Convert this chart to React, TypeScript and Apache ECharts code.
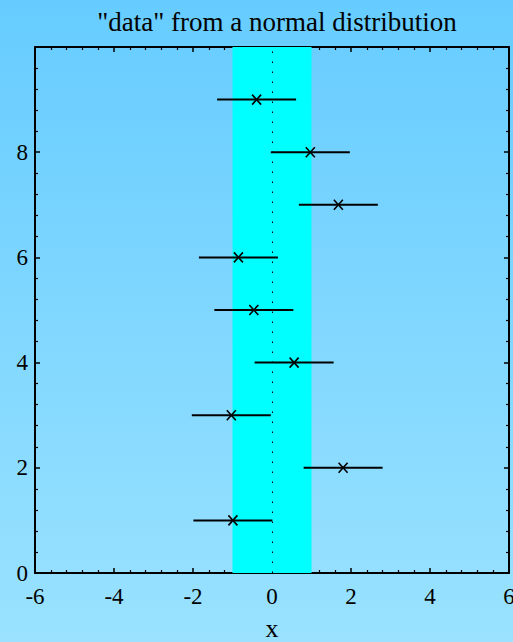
import React, { useEffect, useRef } from "react";
import * as echarts from "echarts";

const titleText = '"data" from a normal distribution';
const xAxisName = "x";
const yValues = [1, 2, 3, 4, 5, 6, 7, 8, 9];
const xValues = [-0.99, 1.8, -1.03, 0.56, -0.46, -0.85, 1.68, 0.97, -0.39];
const xErrors = [1, 1, 1, 1, 1, 1, 1, 1, 1];
const bandRange = [-1, 1];
const refLineX = 0;
const xRange = [-6, 6];
const yRange = [0, 10];

const FONT = "Liberation Serif";

export default function App() {
  const ref = useRef<HTMLDivElement>(null);
  useEffect(() => {
    const chart = echarts.init(ref.current!, null, { renderer: "svg" });
    const points = xValues.map((x, i) => [x, yValues[i], xErrors[i]]);
    const axisCommon = {
      axisLine: { show: true, onZero: false, lineStyle: { color: "#000", width: 2 } },
      axisTick: { show: true, inside: true, length: 5, lineStyle: { color: "#000", width: 1.5 } },
      minorTick: { show: true, splitNumber: 5, length: 3, lineStyle: { color: "#000", width: 1.2 } },
      splitLine: { show: false },
      minorSplitLine: { show: false },
    };
    chart.setOption({
      animation: false,
      backgroundColor: new echarts.graphic.LinearGradient(0, 0, 0, 1, [
        { offset: 0, color: "#66ccff" },
        { offset: 1, color: "#9ae2ff" },
      ]),
      title: {
        text: titleText,
        left: 272,
        textAlign: "center",
        top: 3,
        textStyle: { fontFamily: FONT, fontSize: 27, fontWeight: "normal", color: "#000" },
      },
      grid: { left: 35, right: 4, top: 47, bottom: 69, outerBoundsMode: "none", containLabel: false },
      xAxis: [
        {
          type: "value",
          min: xRange[0],
          max: xRange[1],
          interval: 2,
          position: "bottom",
          name: xAxisName,
          nameLocation: "middle",
          nameGap: 42,
          nameTextStyle: { fontFamily: FONT, fontSize: 26, color: "#000" },
          axisLabel: { fontFamily: FONT, fontSize: 23, color: "#000", margin: 12 },
          ...axisCommon,
        },
        {
          type: "value",
          min: xRange[0],
          max: xRange[1],
          interval: 2,
          position: "top",
          axisLabel: { show: false },
          ...axisCommon,
        },
      ],
      yAxis: [
        {
          type: "value",
          min: yRange[0],
          max: yRange[1],
          interval: 2,
          position: "left",
          axisLabel: { fontFamily: FONT, fontSize: 23, color: "#000", margin: 7, showMaxLabel: false },
          ...axisCommon,
        },
        {
          type: "value",
          min: yRange[0],
          max: yRange[1],
          interval: 2,
          position: "right",
          axisLabel: { show: false },
          ...axisCommon,
        },
      ],
      series: [
        {
          type: "line",
          data: [],
          z: 1,
          markArea: {
            silent: true,
            itemStyle: { color: "#00ffff", opacity: 1 },
            data: [[{ xAxis: bandRange[0] }, { xAxis: bandRange[1] }]],
          },
          markLine: {
            silent: true,
            symbol: "none",
            label: { show: false },
            lineStyle: { color: "#000", width: 1, type: [1.5, 8.5] },
            data: [{ xAxis: refLineX }],
          },
        },
        {
          type: "custom",
          z: 5,
          data: points,
          renderItem: (params: any, api: any) => {
            const x = api.value(0);
            const y = api.value(1);
            const e = api.value(2);
            const c = api.coord([x, y]);
            const l = api.coord([x - e, y]);
            const r = api.coord([x + e, y]);
            const s = { stroke: "#000", lineWidth: 2 };
            const cs = { stroke: "#000", lineWidth: 1.6 };
            return {
              type: "group",
              children: [
                { type: "line", shape: { x1: l[0], y1: l[1], x2: r[0], y2: r[1] }, style: s },
                { type: "line", shape: { x1: c[0] - 4.5, y1: c[1] - 5, x2: c[0] + 4.5, y2: c[1] + 5 }, style: cs },
                { type: "line", shape: { x1: c[0] - 4.5, y1: c[1] + 5, x2: c[0] + 4.5, y2: c[1] - 5 }, style: cs },
              ],
            };
          },
        },
      ],
    });
    return () => chart.dispose();
  }, []);
  return (
    <div
      ref={ref}
      style={{ position: "absolute", left: 0, top: 0, width: 513, height: 642 }}
    />
  );
}
